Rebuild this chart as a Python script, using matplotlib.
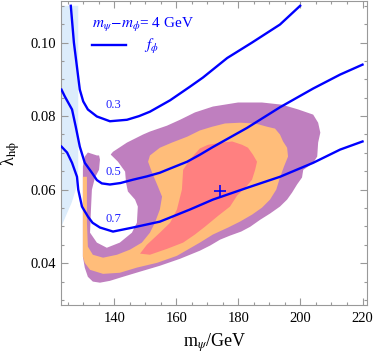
import matplotlib
matplotlib.use('Agg')
import matplotlib.pyplot as plt
from matplotlib.ticker import MultipleLocator, FormatStrFormatter
from matplotlib.lines import Line2D

plt.rcParams['font.family'] = ['Liberation Serif', 'DejaVu Serif']
plt.rcParams['mathtext.fontset'] = 'stix'

# light blue excluded band (m_psi, lambda)
band_m = [123.0, 128.4, 128.4, 127.6, 126.3, 124.6, 123.0]
band_lam = [0.110, 0.110, 0.0650, 0.0600, 0.0565, 0.0532, 0.0500]

# purple region (outer)
purple_m = [131.5, 134.4, 138.6, 139.6, 144.1, 149.3, 151.5, 157.0, 161.2, 166.0,
            171.8, 179.9, 187.6, 194.1, 199.3, 204.1, 205.7, 206.4, 205.7, 205.4,
            204.1, 202.5, 200.9, 200.5, 198.9, 197.3, 195.7, 193.4, 190.2, 187.0,
            183.8, 180.9, 177.3, 174.1, 170.9, 167.6, 164.4, 161.2, 154.7, 148.3,
            142.8, 138.6, 135.4, 133.1, 131.5, 130.5, 129.9, 129.9, 129.9, 130.5]
purple_lam = [0.0701, 0.0693, 0.0693, 0.0703, 0.0728, 0.0750, 0.0758, 0.0774, 0.0790, 0.0810,
              0.0826, 0.0837, 0.0837, 0.0831, 0.0818, 0.0804, 0.0782, 0.0755, 0.0728, 0.0690,
              0.0673, 0.0663, 0.0654, 0.0633, 0.0614, 0.0592, 0.0573, 0.0554, 0.0535, 0.0518,
              0.0499, 0.0486, 0.0475, 0.0464, 0.0448, 0.0434, 0.0423, 0.0412, 0.0393, 0.0377,
              0.0363, 0.0352, 0.0347, 0.0350, 0.0363, 0.0388, 0.0418, 0.0627, 0.0663, 0.0690]

# orange region (C shape around the hole)
orange_m = [129.9, 129.9, 130.5, 132.2, 136.4, 141.8, 147.3, 153.8, 160.2, 167.6,
            171.8, 176.7, 180.5, 184.4, 187.6, 190.2, 192.2, 193.4, 194.7, 196.0,
            195.7, 194.4, 193.4, 191.8, 189.3, 185.4, 180.5, 175.7, 171.5, 167.6,
            163.5, 158.6, 154.7, 151.5, 150.9, 152.2, 154.1, 155.4, 154.7, 153.1,
            151.5, 148.9, 145.1, 140.9, 136.4, 133.1, 131.5, 131.2, 131.2, 131.2]
orange_lam = [0.0635, 0.0418, 0.0401, 0.0382, 0.0371, 0.0374, 0.0388, 0.0401, 0.0420, 0.0456,
              0.0478, 0.0497, 0.0513, 0.0532, 0.0551, 0.0573, 0.0600, 0.0633, 0.0663, 0.0690,
              0.0714, 0.0731, 0.0750, 0.0766, 0.0771, 0.0780, 0.0782, 0.0780, 0.0771, 0.0761,
              0.0744, 0.0728, 0.0714, 0.0693, 0.0676, 0.0646, 0.0608, 0.0581, 0.0546, 0.0510,
              0.0483, 0.0456, 0.0437, 0.0423, 0.0415, 0.0423, 0.0445, 0.0510, 0.0600, 0.0635]

# red region (inner)
red_m = [162.2, 164.4, 167.6, 170.2, 174.7, 178.0, 181.2, 183.1, 184.7, 186.0,
         185.4, 184.4, 182.2, 179.6, 177.3, 173.5, 169.2, 166.0, 162.2, 157.0,
         151.5, 148.3, 150.5, 154.7, 158.0, 160.2, 161.8]
red_lam = [0.0654, 0.0682, 0.0712, 0.0722, 0.0728, 0.0731, 0.0722, 0.0714, 0.0695, 0.0676,
           0.0654, 0.0627, 0.0605, 0.0584, 0.0554, 0.0529, 0.0499, 0.0478, 0.0456, 0.0439,
           0.0423, 0.0426, 0.0450, 0.0483, 0.0510, 0.0546, 0.0600]

# white hole / notch inside the purple region
hole_m = [134.7, 135.4, 135.1, 133.8, 132.8, 132.5, 132.2, 134.4, 137.6, 141.8,
          145.7, 147.3, 147.6, 146.7, 144.4, 143.8, 143.5, 141.2, 138.9, 138.0]
hole_lam = [0.0709, 0.0682, 0.0654, 0.0633, 0.0600, 0.0546, 0.0483, 0.0456, 0.0442, 0.0456,
            0.0483, 0.0510, 0.0554, 0.0573, 0.0595, 0.0619, 0.0649, 0.0676, 0.0695, 0.0709]

# f_phi contours
f03_m = [126.0, 127.0, 128.9, 130.0, 131.5, 134.4, 138.6, 144.1, 148.0, 151.5, 158.0, 164.4,
         168.6, 176.4, 184.4, 193.4, 199.9]
f03_lam = [0.1100, 0.1000, 0.0872, 0.0840, 0.0818, 0.0799, 0.0786, 0.0790, 0.0800, 0.0812,
           0.0843, 0.0880, 0.0905, 0.0958, 0.1000, 0.1049, 0.1100]
f05_m = [123.0, 124.1, 126.4, 127.6, 128.9, 130.5, 132.8, 134.4, 136.0, 138.6, 142.0, 146.0,
         150.5, 154.7, 157.0, 163.5, 167.6, 171.8, 182.8, 193.4, 204.1, 212.8, 220.0]
f05_lam = [0.0872, 0.0853, 0.0818, 0.0771, 0.0717, 0.0673, 0.0646, 0.0626, 0.0617, 0.0614,
           0.0618, 0.0627, 0.0636, 0.0646, 0.0654, 0.0676, 0.0695, 0.0716, 0.0768, 0.0824,
           0.0875, 0.0913, 0.0940]
f07_m = [123.0, 124.8, 126.4, 128.0, 128.4, 129.6, 131.5, 133.0, 135.4, 139.6, 146.0, 154.7,
         164.4, 171.8, 182.8, 193.4, 204.1, 212.8, 220.0]
f07_lam = [0.0717, 0.0701, 0.0673, 0.0635, 0.0600, 0.0554, 0.0527, 0.0510, 0.0497, 0.0486,
           0.0497, 0.0513, 0.0546, 0.0573, 0.0605, 0.0635, 0.0673, 0.0709, 0.0731]

contour_labels = ['0.3', '0.5', '0.7']
label_m = [139.6, 139.6, 139.9]
label_lam = [0.0829, 0.0648, 0.0521]

best_m, best_lam = 174.2, 0.0597

fig = plt.figure(figsize=(3.74, 3.57), dpi=100)
ax = fig.add_axes([0.1644, 0.1443, 0.8182, 0.8529])

ax.fill(band_m, band_lam, color='#dcecfb', lw=0, zorder=1)
ax.fill(purple_m, purple_lam, color='#bf7fbf', lw=0, zorder=2)
ax.fill(orange_m, orange_lam, color='#ffbd7a', lw=0, zorder=3)
ax.fill(red_m, red_lam, color='#ff8080', lw=0, zorder=4)
ax.fill(hole_m, hole_lam, color='white', lw=0, zorder=5)

for xs, ys in [(f03_m, f03_lam), (f05_m, f05_lam), (f07_m, f07_lam)]:
    ax.plot(xs, ys, color='#0000ff', lw=1.7, zorder=6, solid_joinstyle='round')

for t, x, y in zip(contour_labels, label_m, label_lam):
    ax.text(x, y, t, color='#2020ff', fontsize=9, ha='center', va='center', zorder=7)

ax.plot(best_m, best_lam, marker='+', color='#0000ff', ms=8, mew=1.2, zorder=8)

h = Line2D([], [], color='#0000ff', lw=1.7)
leg = ax.legend([h], [r'$f_\phi$'], title=r'$m_\psi\!-\!m_\phi$= 4 GeV',
                loc='upper left', bbox_to_anchor=(0.10, 0.95), frameon=False,
                fontsize=11, title_fontsize=11, handlelength=2.2, handletextpad=1.2,
                labelspacing=0.2, alignment='left', borderaxespad=0, borderpad=0)
leg.get_title().set_color('#0000ff')
for t in leg.get_texts():
    t.set_color('#0000ff')

ax.set_xlim(123.0, 221.6)
ax.set_ylim(0.0285, 0.1113)
ax.xaxis.set_major_locator(MultipleLocator(20))
ax.xaxis.set_minor_locator(MultipleLocator(5))
ax.yaxis.set_major_locator(MultipleLocator(0.02))
ax.yaxis.set_minor_locator(MultipleLocator(0.005))
ax.yaxis.set_major_formatter(FormatStrFormatter('%.2f'))
ax.tick_params(which='both', direction='in', top=True, right=True, color='#999999', labelsize=10.5)
ax.tick_params(which='major', length=5, width=0.8)
ax.tick_params(which='minor', length=2.5, width=0.8)
ax.tick_params(axis='x', pad=5)
ax.tick_params(axis='y', pad=4)
for s in ax.spines.values():
    s.set_color('#999999')
    s.set_linewidth(0.8)

ax.set_xlabel(r'm$_\psi$/GeV', fontsize=13)
ax.set_ylabel(r'λ$_{\rm h\phi}$', fontsize=13)
ax.xaxis.set_label_coords(0.5, -0.085)
ax.yaxis.set_label_coords(-0.13, 0.5)

fig.savefig('out.png', dpi=100)
